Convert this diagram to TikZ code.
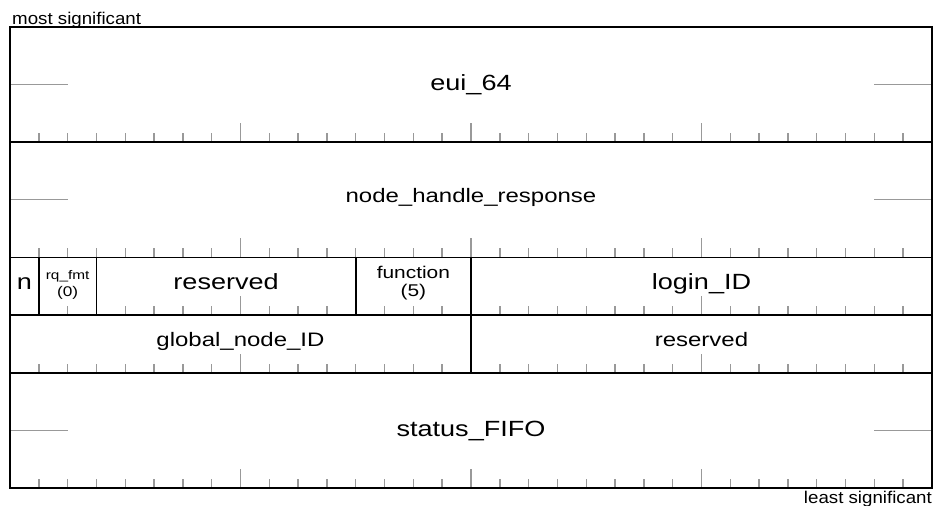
\documentclass[tikz,border=0pt]{standalone}
\usepackage{fontspec}
\setmainfont[FakeStretch=1.1]{Liberation Sans}
\newfontfamily\fieldfont[FakeStretch=1.23]{Liberation Sans}
\definecolor{tickgray}{gray}{0.6}
\def\bw{28.8125}
% one field: [label options] top, bottom, first bit, last bit, node name, label
\newcommand\regfield[7][]{%
  \pgfmathtruncatemacro\fa{#4+1}%
  \ifnum\fa>#5\else
    \foreach \i [evaluate=\i as \h using {mod(\i,8)==0 ? 19 : 9}] in {\fa,...,#5}
      \draw[tick] (10+\i*\bw,#3) -- ++(0,-\h);
  \fi
  \draw[box] (10+#4*\bw,#2) rectangle (10+#5*\bw+\bw,#3);
  \node[lab,#1] (#6) at (10+#4*\bw/2+#5*\bw/2+\bw/2,#2/2+#3/2+3) {#7};
}

\begin{document}
\begin{tikzpicture}[x=1pt,y=-1pt,
    box/.style={draw=black,line width=1.8pt},
    tick/.style={draw=tickgray,line width=1.4pt},
    half/.style={draw=tickgray,line width=1.2pt},
    lab/.style={inner sep=0pt,anchor=base,align=center,font=\fieldfont\fontsize{19.5}{22}\selectfont},
    big/.style={font=\fieldfont\fontsize{22}{24}\selectfont},
    twoline/.style={anchor=center},
    side/.style={inner sep=0pt,font=\fontsize{17}{20}\selectfont}]
  \useasboundingbox (0,0) rectangle (935,506);

  % 64 bit rows get a mark at the quadlet boundary
  \foreach \t/\b in {27/142.2,142.2/257.4,372.6/487.8}{
    \draw[half] (10,\t/2+\b/2) -- ++(2*\bw,0);
    \draw[half] (932,\t/2+\b/2) -- ++(-2*\bw,0);
  }

  \regfield[big,yshift=-3pt]{27}{142.2}{0}{31}{eui}{eui\_64}
  \regfield{142.2}{257.4}{0}{31}{handle}{node\_handle\_response}
  \regfield[big]{257.4}{315}{0}{0}{nbit}{n}
  \regfield[twoline,yshift=4.5pt,font=\fieldfont\fontsize{12.5}{17}\selectfont]{257.4}{315}{1}{2}{rqfmt}{rq\_fmt\\{\fontsize{14}{17}\selectfont(0)}}
  \regfield[big]{257.4}{315}{3}{11}{resva}{reserved}
  \regfield[twoline,yshift=6.5pt,font=\fieldfont\fontsize{17}{18}\selectfont]{257.4}{315}{12}{15}{func}{function\\(5)}
  \regfield[big]{257.4}{315}{16}{31}{login}{login\_ID}
  \regfield{315}{372.6}{0}{15}{gnid}{global\_node\_ID}
  \regfield{315}{372.6}{16}{31}{resvb}{reserved}
  \regfield[big,yshift=-3pt]{372.6}{487.8}{0}{31}{fifo}{status\_FIFO}

  \node[side,anchor=base west] (msb) at (12,24) {most significant};
  \node[side,anchor=base east] (lsb) at (932,503) {least significant};
\end{tikzpicture}
\end{document}
